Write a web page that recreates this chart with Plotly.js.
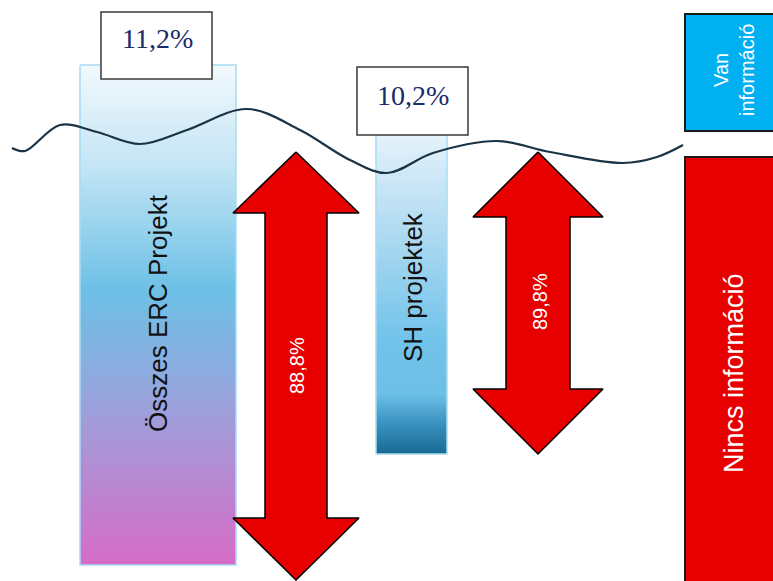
<!DOCTYPE html>
<html>
<head>
<meta charset="utf-8">
<script src="https://cdn.plot.ly/plotly-3.0.1.min.js"></script>
<style>html,body{margin:0;padding:0;background:#fff;}#chart{width:773px;height:581px;}</style>
</head>
<body>
<div id="chart"></div>
<script>
// ---- data ----
const categories = ['Összes ERC Projekt', 'SH projektek'];
const infoPct = [11.2, 10.2];
const noInfoPct = [88.8, 89.8];
const legendLabels = ['Van<br>információ', 'Nincs információ'];
const waveX = [12, 25, 60, 97, 140, 187, 247, 300, 350, 387, 433, 497, 550, 623, 657, 683];
const waveY = [148, 151, 125, 132, 144, 130, 109, 130, 160, 173, 153, 141, 152, 163, 157, 145];

// ---- geometry (pixel space) ----
const barGeom = [
  {x0: 80, x1: 236, y0: 65, y1: 565, tx: 158, ty: 313,
   box: {x0: 101, x1: 212, y0: 12, y1: 79, tx: 157, ty: 38},
   arrow: {cx: 296, top: 152, headTop: 213, headBot: 518, bot: 580, hw: 63, sw: 31, tx: 297, ty: 366},
   scale: [[0, '#f2f9fd'], [0.2, '#c4e5f5'], [0.45, '#6cc0e6'], [0.6, '#8aaee0'], [0.75, '#a996d7'], [1, '#d66cc7']]},
  {x0: 376, x1: 447, y0: 125, y1: 454, tx: 413, ty: 287,
   box: {x0: 357, x1: 468, y0: 67, y1: 135, tx: 413, ty: 95},
   arrow: {cx: 538, top: 152, headTop: 217, headBot: 389, bot: 454, hw: 65, sw: 32, tx: 540, ty: 302},
   scale: [[0, '#eaf5fc'], [0.3, '#b4dcf2'], [0.65, '#72c3ea'], [0.82, '#6cbfe6'], [0.9, '#3d95c2'], [1, '#176a94']]}
];
const legendGeom = [
  {x0: 685, x1: 776, y0: 14, y1: 131, tx: 734, ty: 70, color: '#00b0f0', size: 20},
  {x0: 685, x1: 776, y0: 157, y1: 586, tx: 734, ty: 373, color: '#e80000', size: 27}
];
const fmt = v => v.toFixed(1).replace('.', ',') + '%';
const SANS = 'Liberation Sans, Arial, sans-serif';
const SERIF = 'Liberation Serif, Times New Roman, serif';

const traces = [];
const shapes = [];
const annotations = [];

// gradient bars
barGeom.forEach((g, i) => {
  traces.push({
    type: 'scatter', mode: 'lines',
    x: [g.x0, g.x1, g.x1, g.x0, g.x0],
    y: [g.y0, g.y0, g.y1, g.y1, g.y0],
    fill: 'toself',
    fillgradient: {type: 'vertical', colorscale: g.scale, start: g.y0, stop: g.y1},
    line: {color: '#a9dbf3', width: 1.5},
    hoverinfo: 'skip'
  });
  annotations.push({x: g.tx, y: g.ty, text: categories[i], showarrow: false, textangle: -90,
    font: {family: SANS, size: 26, color: '#111111'}});
});

// wave line
traces.push({type: 'scatter', mode: 'lines', x: waveX, y: waveY,
  line: {color: '#1b3344', width: 2.2, shape: 'spline', smoothing: 1.0}, hoverinfo: 'skip'});

// double arrows
barGeom.forEach((g, i) => {
  const a = g.arrow;
  const xs = [a.cx, a.cx + a.hw, a.cx + a.sw, a.cx + a.sw, a.cx + a.hw, a.cx, a.cx - a.hw, a.cx - a.sw, a.cx - a.sw, a.cx - a.hw, a.cx];
  const ys = [a.top, a.headTop, a.headTop, a.headBot, a.headBot, a.bot, a.headBot, a.headBot, a.headTop, a.headTop, a.top];
  traces.push({type: 'scatter', mode: 'lines', x: xs, y: ys, fill: 'toself', fillcolor: '#e80000',
    line: {color: '#000000', width: 1.5}, hoverinfo: 'skip'});
  annotations.push({x: a.tx, y: a.ty, text: fmt(noInfoPct[i]), showarrow: false, textangle: -90,
    font: {family: SANS, size: 20, color: '#ffffff'}});
  // value box
  const b = g.box;
  shapes.push({type: 'rect', xref: 'x', yref: 'y', x0: b.x0, x1: b.x1, y0: b.y0, y1: b.y1,
    fillcolor: '#ffffff', line: {color: '#3a3a3a', width: 1.5}, layer: 'above'});
  annotations.push({x: b.tx, y: b.ty, text: fmt(infoPct[i]), showarrow: false,
    font: {family: SERIF, size: 28, color: '#1c2a6b'}});
});

// legend-like boxes on the right
legendGeom.forEach((l, i) => {
  shapes.push({type: 'rect', xref: 'x', yref: 'y', x0: l.x0, x1: l.x1, y0: l.y0, y1: l.y1,
    fillcolor: l.color, line: {color: '#1a1a1a', width: 2}, layer: 'above'});
  annotations.push({x: l.tx, y: l.ty, text: legendLabels[i], showarrow: false, textangle: -90,
    font: {family: SANS, size: l.size, color: '#ffffff'}});
});

const layout = {
  width: 773, height: 581,
  margin: {l: 0, r: 0, t: 0, b: 0},
  paper_bgcolor: '#ffffff', plot_bgcolor: '#ffffff',
  showlegend: false,
  xaxis: {range: [0, 773], visible: false, fixedrange: true},
  yaxis: {range: [581, 0], visible: false, fixedrange: true},
  shapes: shapes,
  annotations: annotations
};
Plotly.newPlot('chart', traces, layout, {displayModeBar: false, staticPlot: true});
</script>
</body>
</html>
